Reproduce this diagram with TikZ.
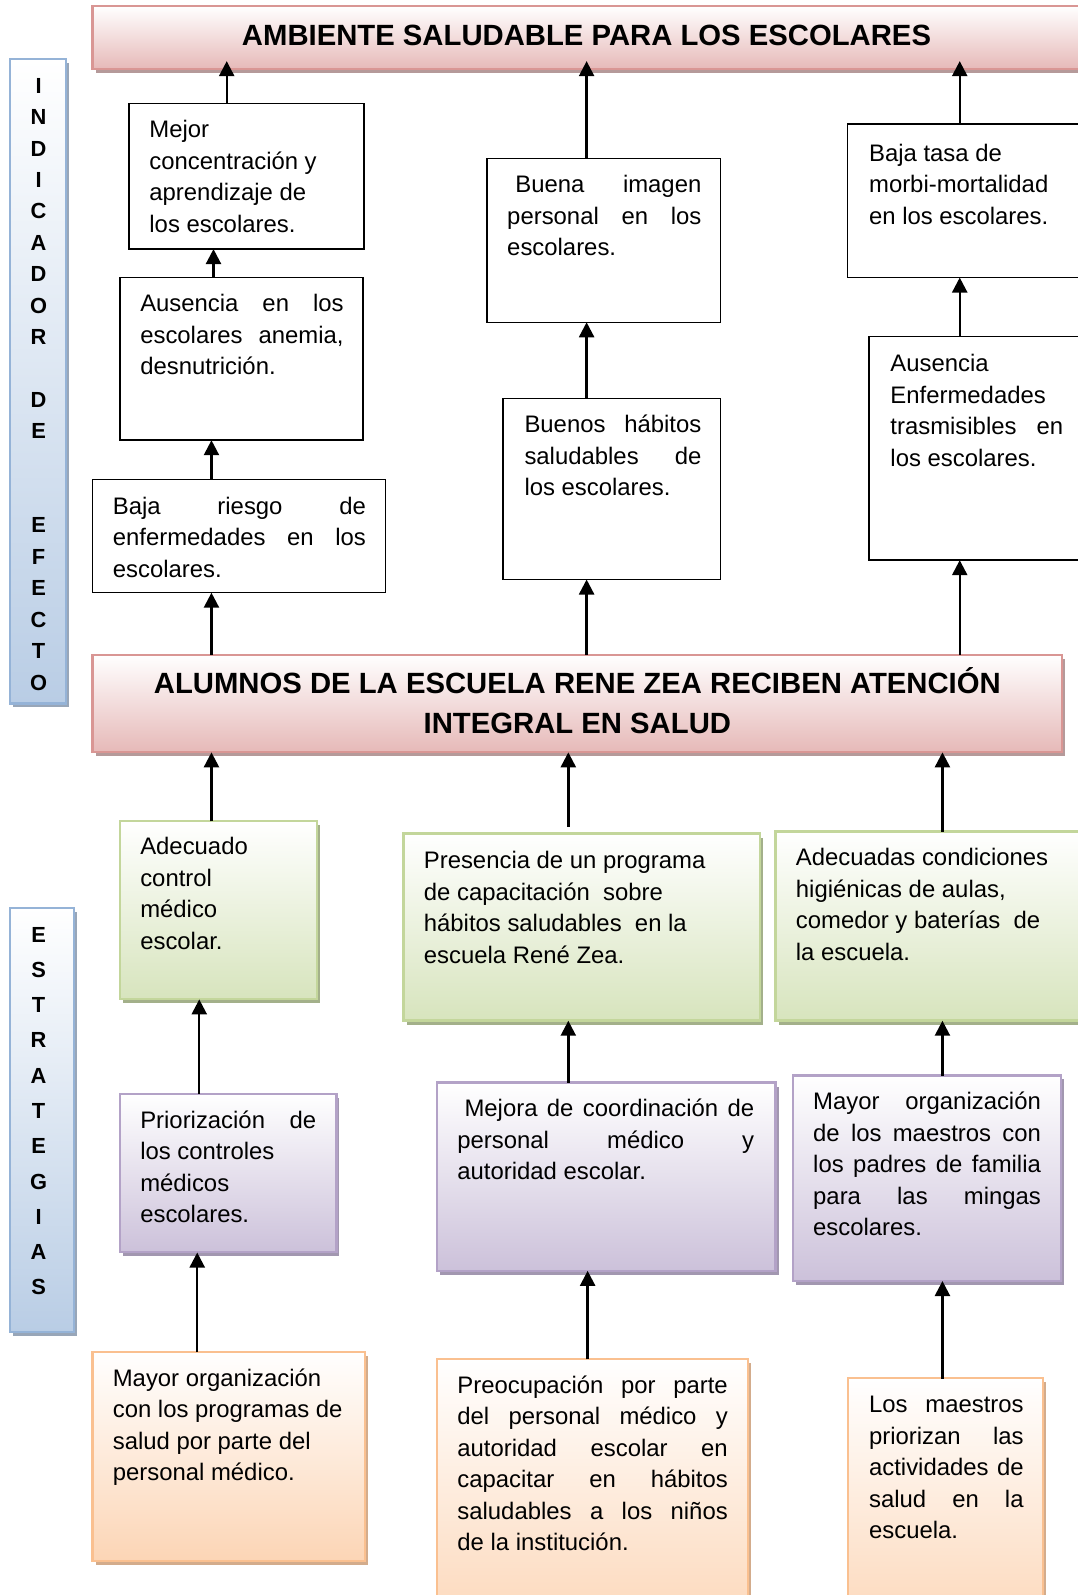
\documentclass[tikz,border=0pt]{standalone}
\usepackage{fontspec}
\setmainfont{Liberation Sans}
\usetikzlibrary{arrows.meta,shadows}
\hyphenpenalty=10000
\exhyphenpenalty=10000
\tolerance=10000
\setlength{\parindent}{0pt}
\definecolor{redL}{HTML}{D99694}
\definecolor{redF}{HTML}{E6B9B8}
\definecolor{redS}{HTML}{B59A9A}
\definecolor{grnL}{HTML}{C3D69B}
\definecolor{grnF}{HTML}{D7E4BD}
\definecolor{grnS}{HTML}{A3B08A}
\definecolor{purL}{HTML}{B3A2C7}
\definecolor{purF}{HTML}{CCC1DA}
\definecolor{purS}{HTML}{A297B0}
\definecolor{oraL}{HTML}{FAC090}
\definecolor{oraF}{HTML}{FCD5B5}
\definecolor{oraS}{HTML}{D3AC8C}
\definecolor{bluL}{HTML}{95B3D7}
\definecolor{bluF}{HTML}{B9CDE5}
\definecolor{bluS}{HTML}{98A6B8}
\newcommand\bxnode[6]{\node[#2, minimum width={#5-#3}, minimum height={#6-#4}] (#1) at (#3,#4) {};}
\begin{document}
\begin{tikzpicture}[x=1pt,y=-1pt,
  box/.style={anchor=north west, inner sep=0pt, outer sep=0pt},
  eff/.style={box, draw=black, line width=1.4pt, fill=white},
  fancy/.style n args={3}{box, line width=2.2pt, draw=#1, top color=white, bottom color=#2,
     drop shadow={shadow xshift=3pt, shadow yshift=-4pt, fill=#3, opacity=1}},
  redbox/.style={fancy={redL}{redF}{redS}},
  grnbox/.style={fancy={grnL}{grnF}{grnS}},
  purbox/.style={fancy={purL}{purF}{purS}},
  orabox/.style={fancy={oraL}{oraF}{oraS}},
  blubox/.style={fancy={bluL}{bluF}{bluS}},
  txt/.style={anchor=north west, inner sep=0pt, outer sep=0pt, yshift=-2pt, font=\fontsize{23.5}{31}\selectfont},
  rag/.style={txt, align=left},
  jus/.style={txt, text width=#1, align=justify},
  banner/.style={font=\bfseries\fontsize{28.8}{39}\selectfont, align=center, inner sep=0pt},
  side/.style={font=\bfseries\fontsize{21.5}{#1}\selectfont, align=center, inner sep=0pt},
  arr/.style={line width=2.4pt, -{Triangle[width=15pt,length=15pt]}}
]
\useasboundingbox (0,0) rectangle (1078,1595);
\begin{scope}[overlay, scale=1.0165, transform shape]
\clip (0,0) rectangle (1061,1570);

% side bars
\bxnode{SB1}{blubox}{10}{58}{65}{692}
\bxnode{SB2}{blubox}{10}{893}{73}{1310}
\node[side=30.9] (SB1t) at (38,378) {I\\N\\D\\I\\C\\A\\D\\O\\R\\\strut\\D\\E\\\strut\\\strut\\E\\F\\E\\C\\T\\O};
\node[side=34.7] (SB2t) at (38,1093) {E\\S\\T\\R\\A\\T\\E\\G\\I\\A\\S};

% banners
\bxnode{TOP}{redbox}{91}{6}{1090}{68}
\node[banner] (TOPt) at (577,35) {AMBIENTE SALUDABLE PARA LOS ESCOLARES};
\bxnode{MID}{redbox}{91}{644}{1045}{740}
\node[banner] (MIDt) at (568,689) {ALUMNOS DE LA ESCUELA RENE ZEA RECIBEN ATENCIÓN\\INTEGRAL EN SALUD};

% effect boxes
\bxnode{A1}{eff}{127}{102}{358}{245}
\node[rag] (A1t) at (147,112) {\strut Mejor\\concentración y\\aprendizaje de\\los escolares.};
\bxnode{A2}{eff}{118}{273}{357}{433}
\node[jus=200pt] (A2t) at (138,283) {\strut Ausencia en los\break escolares anemia,\break desnutrición.};
\bxnode{A3}{eff}{91}{472}{379}{583}
\node[jus=249pt] (A3t) at (111,482) {\strut Baja riesgo de\break enfermedades en los\break escolares.};
\bxnode{B1}{eff}{479}{156}{709}{317}
\node[jus=191pt] (B1t) at (499,166) {\strut\hspace*{8pt}Buena imagen\break personal en los\break escolares.};
\bxnode{B2}{eff}{495}{392}{709}{570}
\node[jus=174pt] (B2t) at (516,402) {\strut Buenos hábitos\break saludables de\break los escolares.};
\bxnode{C1}{eff}{834}{122}{1095}{273}
\node[rag] (C1t) at (855,135) {\strut Baja tasa de\\morbi-mortalidad\\en los escolares.};
\bxnode{C2}{eff}{855}{331}{1095}{551}
\node[jus=170pt] (C2t) at (876,342) {\strut Ausencia\newline Enfermedades\newline trasmisibles en\break los escolares.};

% strategy boxes
\bxnode{G1}{grnbox}{118}{808}{312}{983}
\node[rag] (G1t) at (138,817) {\strut Adecuado\\control\\médico\\escolar.};
\bxnode{G2}{grnbox}{397}{820}{748}{1004}
\node[rag] (G2t) at (417,831) {\strut Presencia de un programa\\de capacitación~ sobre\\hábitos saludables~ en la\\escuela René Zea.};
\bxnode{G3}{grnbox}{763}{818}{1095}{1004}
\node[rag] (G3t) at (783,828) {\strut Adecuadas condiciones\\higiénicas de aulas,\\comedor y baterías~ de\\la escuela.};

\bxnode{P1}{purbox}{118}{1076}{331}{1232}
\node[jus=173pt] (P1t) at (138,1086) {\strut Priorización de\break los controles\newline médicos\newline escolares.};
\bxnode{P2}{purbox}{430}{1065}{763}{1250}
\node[jus=292pt] (P2t) at (450,1075) {\strut\hspace*{7pt}Mejora de coordinación de\break personal médico y\break autoridad escolar.};
\bxnode{P3}{purbox}{780}{1058}{1044}{1260}
\node[jus=224pt] (P3t) at (800,1068) {\strut Mayor organización\break de los maestros con\break los padres de familia\break para las mingas\break escolares.};

\bxnode{O1}{orabox}{91}{1330}{359}{1536}
\node[rag] (O1t) at (111,1340) {\strut Mayor organización\\con los programas de\\salud por parte del\\personal médico.};
\bxnode{O2}{orabox}{430}{1337}{736}{1620}
\node[jus=266pt] (O2t) at (450,1347) {\strut Preocupación por parte\break del personal médico y\break autoridad escolar en\break capacitar en hábitos\break saludables a los niños\break de la institución.};
\bxnode{O3}{orabox}{834}{1356}{1026}{1620}
\node[jus=152pt] (O3t) at (855,1366) {\strut Los maestros\break priorizan las\break actividades de\break salud en la\break escuela.};

% column coordinates
\coordinate (cA) at (208,0);
\coordinate (cA2) at (210,0);
\coordinate (cA3) at (223,0);
\coordinate (cB) at (577,0);
\coordinate (cC) at (944,0);
\coordinate (sA) at (208,0);
\coordinate (sA2) at (196,0);
\coordinate (sA3) at (194,0);
\coordinate (sB) at (559,0);
\coordinate (sB3) at (578,0);
\coordinate (sC) at (927,0);

% effect arrows
\draw[arr] (MID.north -| cA) -- (A3.south -| cA);
\draw[arr] (A3.north -| cA) -- (A2.south -| cA);
\draw[arr] (A2.north -| cA2) -- (A1.south -| cA2);
\draw[arr, shorten >=-8pt] (A1.north -| cA3) -- (TOP.south -| cA3);
\draw[arr] (MID.north -| cB) -- (B2.south -| cB);
\draw[arr] (B2.north -| cB) -- (B1.south -| cB);
\draw[arr, shorten >=-8pt] (B1.north -| cB) -- (TOP.south -| cB);
\draw[arr] (MID.north -| cC) -- (C2.south -| cC);
\draw[arr] (C2.north -| cC) -- (C1.south -| cC);
\draw[arr, shorten >=-8pt] (C1.north -| cC) -- (TOP.south -| cC);

% strategy arrows
\draw[arr] (G1.north -| sA) -- (MID.south -| sA);
\draw[arr] (P1.north -| sA2) -- (G1.south -| sA2);
\draw[arr] (O1.north -| sA3) -- (P1.south -| sA3);
\draw[arr, shorten <=7pt] (G2.north -| sB) -- (MID.south -| sB);
\draw[arr] (P2.north -| sB) -- (G2.south -| sB);
\draw[arr] (O2.north -| sB3) -- (P2.south -| sB3);
\draw[arr] (G3.north -| sC) -- (MID.south -| sC);
\draw[arr] (P3.north -| sC) -- (G3.south -| sC);
\draw[arr] (O3.north -| sC) -- (P3.south -| sC);
\end{scope}
\end{tikzpicture}
\end{document}
